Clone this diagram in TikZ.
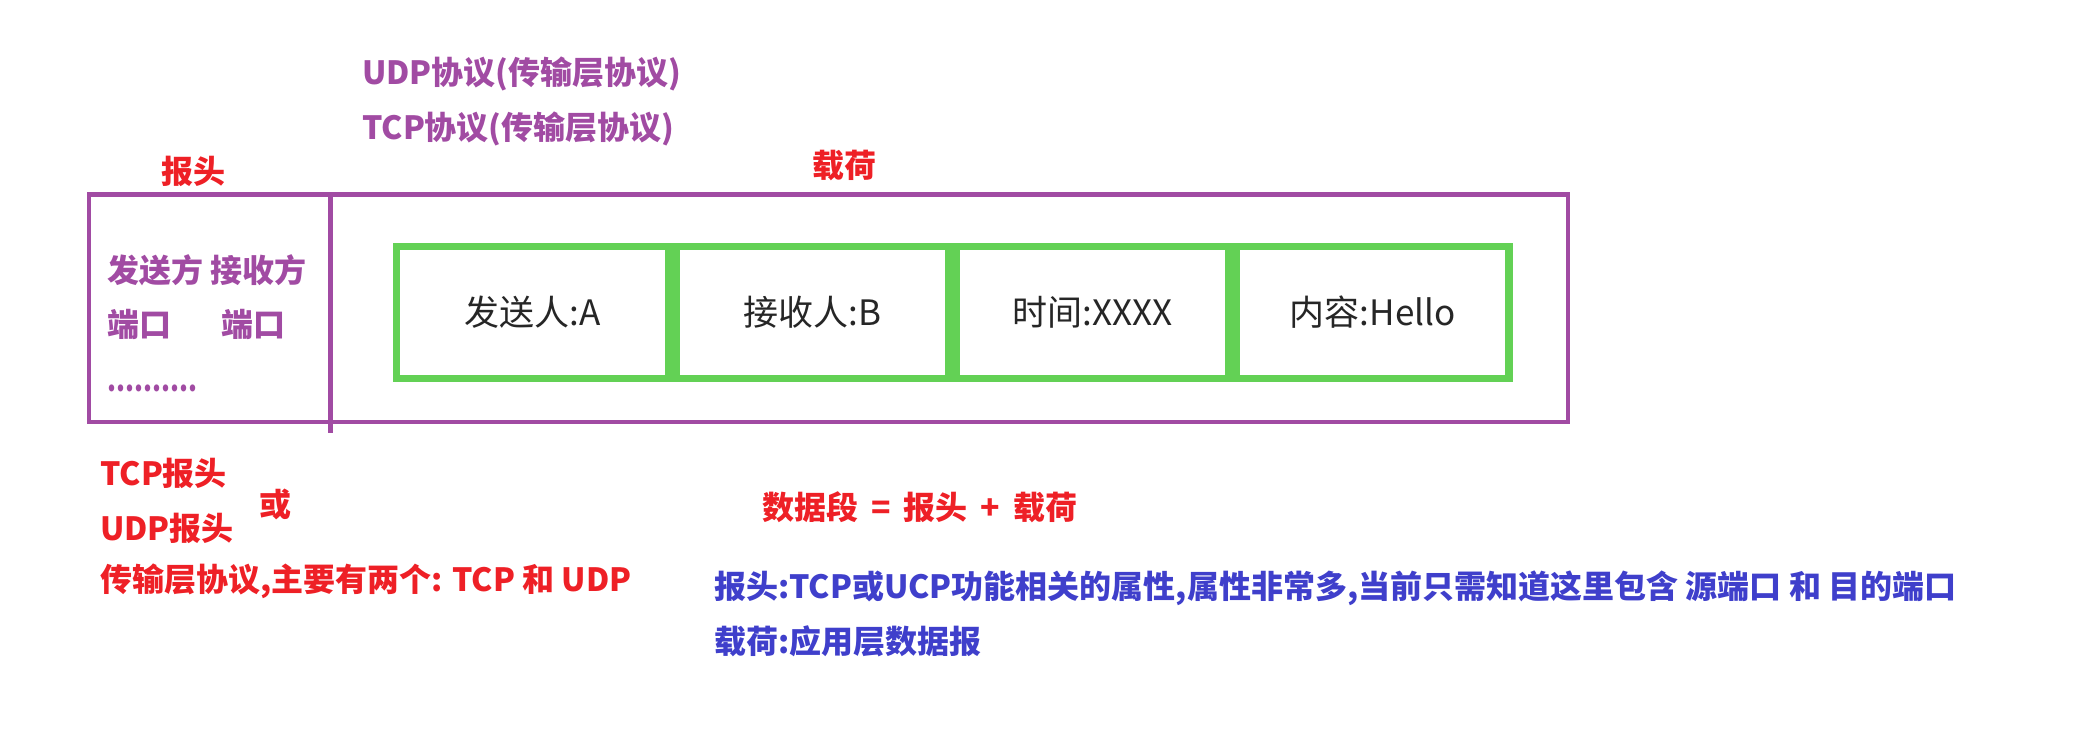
\documentclass[tikz,border=0pt]{standalone}
\usepackage{fontspec}
\newfontfamily\cjk{Noto Sans CJK SC}
\definecolor{pu}{HTML}{A14BA3}
\definecolor{rd}{HTML}{EE2026}
\definecolor{bl}{HTML}{3F3FCB}
\definecolor{gr}{HTML}{63D155}
\definecolor{tx}{HTML}{262626}
\tikzset{
  lbl/.style={inner sep=0pt, anchor=west, font=\cjk\bfseries\fontsize{32}{38}\selectfont},
  plbl/.style={lbl, text=pu},
  rlbl/.style={lbl, text=rd},
  blbl/.style={lbl, text=bl},
  cell/.style={draw=gr, line width=7.5pt, minimum width=272.5pt, minimum height=132.2pt,
    inner sep=0pt, text=tx, font=\cjk\fontsize{35}{42}\selectfont},
  segbox/.style={draw=pu, line width=4.5pt, minimum width=1479pt, minimum height=227.5pt, inner sep=0pt},
}
\begin{document}
\begin{tikzpicture}[x=1pt,y=-1pt]
\useasboundingbox (0,0) rectangle (2091,741);
% outer segment box
\node[segbox] (seg) at (828.5,308.25) {};
\coordinate (dtop) at (330,194.5);
\coordinate (dbot) at (330,433);
\draw[pu, line width=5pt] (dtop) -- (dbot);
% payload cells
\node[cell] (c1) at (532.75,312.4) {发送人:A};
\node[cell] (c2) at (812.75,312.4) {接收人:B};
\node[cell] (c3) at (1092.75,312.4) {时间:XXXX};
\node[cell] (c4) at (1372.75,312.4) {内容:Hello};
% top labels
\node[plbl] (udp) at (362,74) {UDP协议(传输层协议)};
\node[plbl] (tcp) at (362,128.5) {TCP协议(传输层协议)};
\node[rlbl] (bt) at (161,171) {报头};
\node[rlbl] (zh) at (812,165) {载荷};
% header contents
\node[plbl] (h1) at (107,270.5) {发送方 接收方};
\node[plbl] (h2) at (107,324) {端口};
\node[plbl] (h3) at (221,324) {端口};
\node[plbl] (h4) at (107,388) {\scalebox{0.8}[1]{..........}};
% bottom left
\node[rlbl] (tcph) at (100,473) {TCP报头};
\node[rlbl] (udph) at (100,528) {UDP报头};
\node[rlbl] (huo) at (259,504) {或};
\node[rlbl] (csc) at (100,581) {传输层协议,主要有两个: TCP 和 UDP};
% bottom right
\node[rlbl] (eq) at (762,507) {数据段\hspace{13pt}=\hspace{13pt}报头\hspace{13pt}+\hspace{13pt}载荷};
\node[blbl] (b1) at (714,588) {报头:TCP或UCP功能相关的属性,属性非常多,当前只需知道这里包含 源端口 和 目的端口};
\node[blbl] (b2) at (714,641) {载荷:应用层数据报};
\end{tikzpicture}
\end{document}
